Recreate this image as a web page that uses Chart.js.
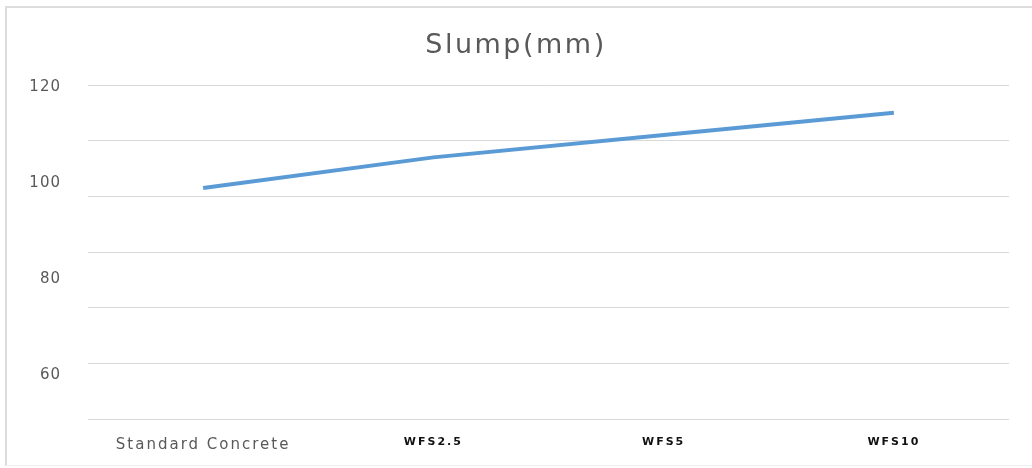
<!DOCTYPE html>
<html>
<head>
<meta charset="utf-8">
<script src="https://cdn.jsdelivr.net/npm/chart.js@4/dist/chart.umd.min.js"></script>
<style>
  html, body { margin: 0; padding: 0; background: #ffffff; }
  #wrap { position: relative; width: 1032px; height: 468px; overflow: hidden; }
  #frame {
    position: absolute; left: 5px; top: 6px; width: 1040px; height: 460px;
    border-left: 2px solid #dcdcdc; border-top: 2px solid #dcdcdc; border-bottom: 1px solid #efefef;
    box-sizing: border-box; pointer-events: none;
  }
  canvas { position: absolute; left: 0; top: 0; }
</style>
</head>
<body>
<div id="wrap">
  <canvas id="chart" width="1032" height="468"></canvas>
  <div id="frame"></div>
</div>
<script>
// Mix design categories and measured slump (mm)
const categories = ['Standard Concrete', 'WFS2.5', 'WFS5', 'WFS10'];
const slump = [101.5, 107, 111, 115];

// Axis settings
const gridMin = 60, gridMax = 120, gridStep = 10;
const yTickLabels = [60, 80, 100, 120];

// Scales that draw their tick labels with extra letter spacing
function spacedScale(Base, id) {
  return class extends Base {
    static id = id;
    drawLabels(area) {
      const ctx = this.ctx;
      ctx.save();
      ctx.letterSpacing = this.options.ticks.letterGap || '0px';
      super.drawLabels(area);
      ctx.restore();
    }
  };
}
const SpacedCategory = spacedScale(Chart.CategoryScale, 'spacedCategory');
const SpacedLinear = spacedScale(Chart.LinearScale, 'spacedLinear');
Chart.register(SpacedCategory, SpacedLinear);

// Letter spacing for the title text
const titleSpacing = {
  id: 'titleSpacing',
  beforeDraw(chart) { chart.ctx.letterSpacing = '2.5px'; },
  afterDraw(chart) { chart.ctx.letterSpacing = '0px'; }
};

const textGray = '#595959';

new Chart(document.getElementById('chart'), {
  type: 'line',
  data: {
    labels: categories,
    datasets: [{
      label: 'Slump(mm)',
      data: slump,
      yAxisID: 'y',
      borderColor: '#5b9bd5',
      backgroundColor: '#5b9bd5',
      borderWidth: 4,
      pointRadius: 0,
      pointHoverRadius: 0,
      tension: 0,
      borderCapStyle: 'butt'
    }]
  },
  options: {
    responsive: false,
    devicePixelRatio: 1,
    animation: false,
    layout: { padding: 0 },
    plugins: {
      legend: { display: false },
      tooltip: { enabled: false },
      title: {
        display: true,
        text: 'Slump(mm)',
        color: textGray,
        font: { family: 'DejaVu Sans', size: 27, weight: 'normal' },
        padding: { top: 30, bottom: 22.6 }
      }
    },
    scales: {
      x: {
        type: 'spacedCategory',
        offset: true,
        grid: { display: false },
        border: { display: false },
        afterFit(scale) { scale.height = 49; },
        ticks: {
          letterGap: '2px',
          padding: 9,
          maxRotation: 0,
          autoSkip: false,
          color: (c) => c.index === 0 ? textGray : '#111111',
          font: (c) => c.index === 0
            ? { family: 'DejaVu Sans', size: 15, weight: 'normal' }
            : { family: 'DejaVu Sans', size: 11, weight: 'bold' }
        }
      },
      y: {
        type: 'linear',
        position: 'left',
        min: gridMin,
        max: gridMax,
        ticks: { display: false, stepSize: gridStep },
        grid: { color: '#d9d9d9', lineWidth: 1, drawTicks: false },
        border: { display: false }
      },
      yl: {
        type: 'spacedLinear',
        position: 'left',
        min: 50.9,
        max: 120.5,
        grid: { display: false, drawTicks: false },
        border: { display: false },
        afterBuildTicks(scale) { scale.ticks = yTickLabels.map(v => ({ value: v })); },
        afterFit(scale) { scale.width = 88; },
        ticks: {
          letterGap: '1px',
          padding: 27,
          color: textGray,
          font: { family: 'DejaVu Sans', size: 15, weight: 'normal' },
          callback: (v) => String(v)
        }
      },
      // empty right-hand margin beside the plot
      yr: {
        type: 'linear',
        position: 'right',
        min: gridMin,
        max: gridMax,
        grid: { display: false, drawTicks: false },
        border: { display: false },
        ticks: { display: false },
        afterFit(scale) { scale.width = 23; }
      }
    }
  },
  plugins: [titleSpacing]
});
</script>
</body>
</html>
